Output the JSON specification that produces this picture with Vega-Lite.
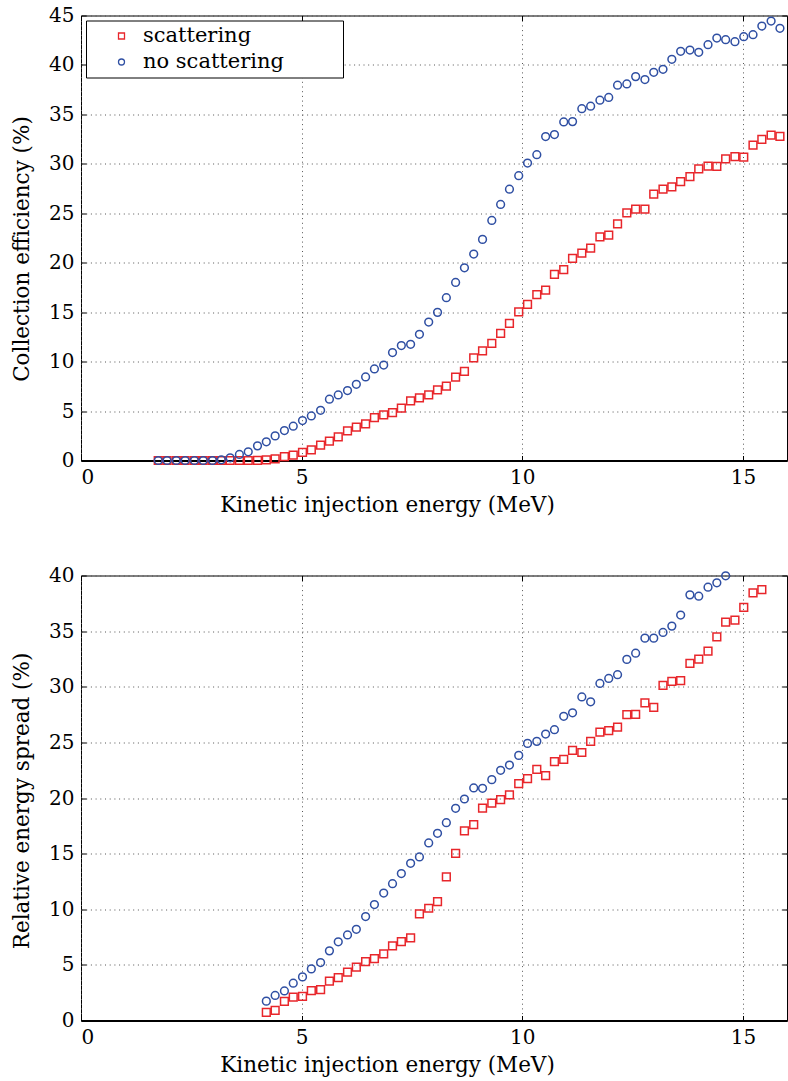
{
  "$schema": "https://vega.github.io/schema/vega-lite/v6.json",
  "padding": {"left": 10, "top": 4.5, "right": 0, "bottom": 0},
  "bounds": "flush",
  "spacing": 115,
  "config": {
    "font": "DejaVu Serif",
    "view": {"stroke": "black", "strokeWidth": 1},
    "axis": {
      "labelFont": "DejaVu Serif",
      "labelFontSize": 20,
      "labelColor": "black",
      "titleFont": "DejaVu Serif",
      "titleFontSize": 21.5,
      "titleFontWeight": "normal",
      "titleColor": "black",
      "tickColor": "black",
      "domainColor": "black",
      "gridColor": "#555555",
      "gridDash": [1, 3.7],
      "gridWidth": 1
    },
    "legend": {
      "labelFont": "DejaVu Serif",
      "labelFontSize": 21,
      "labelColor": "black",
      "labelLimit": 400
    }
  },
  "datasets": {
    "eff": [
      {"E": 1.75, "v": 0, "s": "scattering"}, {"E": 1.95, "v": 0, "s": "scattering"}, {"E": 2.16, "v": 0, "s": "scattering"}, {"E": 2.36, "v": 0, "s": "scattering"}, {"E": 2.57, "v": 0, "s": "scattering"}, {"E": 2.77, "v": 0, "s": "scattering"}, {"E": 2.98, "v": 0, "s": "scattering"}, {"E": 3.18, "v": 0, "s": "scattering"}, {"E": 3.38, "v": 0, "s": "scattering"}, {"E": 3.59, "v": 0, "s": "scattering"}, {"E": 3.79, "v": 0, "s": "scattering"}, {"E": 4.0, "v": 0.02, "s": "scattering"},
      {"E": 4.2, "v": 0.07, "s": "scattering"}, {"E": 4.4, "v": 0.17, "s": "scattering"}, {"E": 4.61, "v": 0.4, "s": "scattering"}, {"E": 4.81, "v": 0.54, "s": "scattering"}, {"E": 5.02, "v": 0.81, "s": "scattering"}, {"E": 5.22, "v": 1.08, "s": "scattering"}, {"E": 5.43, "v": 1.55, "s": "scattering"}, {"E": 5.63, "v": 1.95, "s": "scattering"}, {"E": 5.83, "v": 2.39, "s": "scattering"}, {"E": 6.04, "v": 3.0, "s": "scattering"},
      {"E": 6.24, "v": 3.37, "s": "scattering"}, {"E": 6.45, "v": 3.7, "s": "scattering"}, {"E": 6.65, "v": 4.34, "s": "scattering"}, {"E": 6.86, "v": 4.61, "s": "scattering"}, {"E": 7.06, "v": 4.85, "s": "scattering"}, {"E": 7.26, "v": 5.29, "s": "scattering"}, {"E": 7.47, "v": 6.03, "s": "scattering"}, {"E": 7.67, "v": 6.33, "s": "scattering"}, {"E": 7.88, "v": 6.63, "s": "scattering"}, {"E": 8.08, "v": 7.14, "s": "scattering"},
      {"E": 8.28, "v": 7.51, "s": "scattering"}, {"E": 8.49, "v": 8.42, "s": "scattering"}, {"E": 8.69, "v": 9.02, "s": "scattering"}, {"E": 8.9, "v": 10.37, "s": "scattering"}, {"E": 9.1, "v": 11.08, "s": "scattering"}, {"E": 9.31, "v": 11.85, "s": "scattering"}, {"E": 9.51, "v": 12.86, "s": "scattering"}, {"E": 9.71, "v": 13.87, "s": "scattering"}, {"E": 9.92, "v": 15.02, "s": "scattering"}, {"E": 10.12, "v": 15.79, "s": "scattering"},
      {"E": 10.33, "v": 16.77, "s": "scattering"}, {"E": 10.53, "v": 17.24, "s": "scattering"}, {"E": 10.73, "v": 18.82, "s": "scattering"}, {"E": 10.94, "v": 19.29, "s": "scattering"}, {"E": 11.14, "v": 20.44, "s": "scattering"}, {"E": 11.35, "v": 20.98, "s": "scattering"}, {"E": 11.55, "v": 21.48, "s": "scattering"}, {"E": 11.76, "v": 22.61, "s": "scattering"}, {"E": 11.96, "v": 22.8, "s": "scattering"}, {"E": 12.16, "v": 23.94, "s": "scattering"},
      {"E": 12.37, "v": 25.05, "s": "scattering"}, {"E": 12.57, "v": 25.42, "s": "scattering"}, {"E": 12.78, "v": 25.42, "s": "scattering"}, {"E": 12.98, "v": 26.93, "s": "scattering"}, {"E": 13.19, "v": 27.43, "s": "scattering"}, {"E": 13.39, "v": 27.67, "s": "scattering"}, {"E": 13.59, "v": 28.21, "s": "scattering"}, {"E": 13.8, "v": 28.7, "s": "scattering"}, {"E": 14.0, "v": 29.48, "s": "scattering"}, {"E": 14.21, "v": 29.78, "s": "scattering"},
      {"E": 14.41, "v": 29.75, "s": "scattering"}, {"E": 14.61, "v": 30.49, "s": "scattering"}, {"E": 14.82, "v": 30.72, "s": "scattering"}, {"E": 15.02, "v": 30.69, "s": "scattering"}, {"E": 15.23, "v": 31.9, "s": "scattering"}, {"E": 15.43, "v": 32.47, "s": "scattering"}, {"E": 15.64, "v": 32.91, "s": "scattering"}, {"E": 15.84, "v": 32.78, "s": "scattering"},
      {"E": 1.75, "v": 0, "s": "no scattering"}, {"E": 1.95, "v": 0, "s": "no scattering"}, {"E": 2.16, "v": 0, "s": "no scattering"}, {"E": 2.36, "v": 0, "s": "no scattering"}, {"E": 2.57, "v": 0, "s": "no scattering"}, {"E": 2.77, "v": 0, "s": "no scattering"}, {"E": 2.98, "v": 0, "s": "no scattering"}, {"E": 3.18, "v": 0.07, "s": "no scattering"}, {"E": 3.38, "v": 0.27, "s": "no scattering"}, {"E": 3.59, "v": 0.61, "s": "no scattering"},
      {"E": 3.79, "v": 0.88, "s": "no scattering"}, {"E": 4.0, "v": 1.48, "s": "no scattering"}, {"E": 4.2, "v": 1.89, "s": "no scattering"}, {"E": 4.4, "v": 2.49, "s": "no scattering"}, {"E": 4.61, "v": 3.03, "s": "no scattering"}, {"E": 4.81, "v": 3.47, "s": "no scattering"}, {"E": 5.02, "v": 4.04, "s": "no scattering"}, {"E": 5.22, "v": 4.51, "s": "no scattering"}, {"E": 5.43, "v": 5.08, "s": "no scattering"}, {"E": 5.63, "v": 6.2, "s": "no scattering"},
      {"E": 5.83, "v": 6.63, "s": "no scattering"}, {"E": 6.04, "v": 7.07, "s": "no scattering"}, {"E": 6.24, "v": 7.71, "s": "no scattering"}, {"E": 6.45, "v": 8.45, "s": "no scattering"}, {"E": 6.65, "v": 9.26, "s": "no scattering"}, {"E": 6.86, "v": 9.65, "s": "no scattering"}, {"E": 7.06, "v": 10.92, "s": "no scattering"}, {"E": 7.26, "v": 11.62, "s": "no scattering"}, {"E": 7.47, "v": 11.75, "s": "no scattering"}, {"E": 7.67, "v": 12.76, "s": "no scattering"},
      {"E": 7.88, "v": 14.0, "s": "no scattering"}, {"E": 8.08, "v": 14.98, "s": "no scattering"}, {"E": 8.28, "v": 16.46, "s": "no scattering"}, {"E": 8.49, "v": 18.01, "s": "no scattering"}, {"E": 8.69, "v": 19.49, "s": "no scattering"}, {"E": 8.9, "v": 20.88, "s": "no scattering"}, {"E": 9.1, "v": 22.36, "s": "no scattering"}, {"E": 9.31, "v": 24.28, "s": "no scattering"}, {"E": 9.51, "v": 25.89, "s": "no scattering"}, {"E": 9.71, "v": 27.44, "s": "no scattering"},
      {"E": 9.92, "v": 28.8, "s": "no scattering"}, {"E": 10.12, "v": 30.08, "s": "no scattering"}, {"E": 10.33, "v": 30.92, "s": "no scattering"}, {"E": 10.53, "v": 32.76, "s": "no scattering"}, {"E": 10.73, "v": 32.96, "s": "no scattering"}, {"E": 10.94, "v": 34.24, "s": "no scattering"}, {"E": 11.14, "v": 34.27, "s": "no scattering"}, {"E": 11.35, "v": 35.58, "s": "no scattering"}, {"E": 11.55, "v": 35.83, "s": "no scattering"}, {"E": 11.76, "v": 36.44, "s": "no scattering"},
      {"E": 11.96, "v": 36.71, "s": "no scattering"}, {"E": 12.16, "v": 37.95, "s": "no scattering"}, {"E": 12.37, "v": 38.08, "s": "no scattering"}, {"E": 12.57, "v": 38.82, "s": "no scattering"}, {"E": 12.78, "v": 38.52, "s": "no scattering"}, {"E": 12.98, "v": 39.26, "s": "no scattering"}, {"E": 13.19, "v": 39.56, "s": "no scattering"}, {"E": 13.39, "v": 40.57, "s": "no scattering"}, {"E": 13.59, "v": 41.38, "s": "no scattering"}, {"E": 13.8, "v": 41.51, "s": "no scattering"},
      {"E": 14.0, "v": 41.28, "s": "no scattering"}, {"E": 14.21, "v": 42.05, "s": "no scattering"}, {"E": 14.41, "v": 42.72, "s": "no scattering"}, {"E": 14.61, "v": 42.55, "s": "no scattering"}, {"E": 14.82, "v": 42.35, "s": "no scattering"}, {"E": 15.02, "v": 42.86, "s": "no scattering"}, {"E": 15.23, "v": 43.06, "s": "no scattering"}, {"E": 15.43, "v": 43.93, "s": "no scattering"}, {"E": 15.64, "v": 44.44, "s": "no scattering"}, {"E": 15.84, "v": 43.7, "s": "no scattering"}
    ],
    "spread": [
      {"E": 4.2, "v": 0.72, "s": "scattering"}, {"E": 4.4, "v": 0.9, "s": "scattering"}, {"E": 4.61, "v": 1.71, "s": "scattering"}, {"E": 4.81, "v": 2.1, "s": "scattering"}, {"E": 5.02, "v": 2.16, "s": "scattering"}, {"E": 5.22, "v": 2.69, "s": "scattering"}, {"E": 5.43, "v": 2.78, "s": "scattering"}, {"E": 5.63, "v": 3.53, "s": "scattering"}, {"E": 5.83, "v": 3.86, "s": "scattering"}, {"E": 6.04, "v": 4.34, "s": "scattering"},
      {"E": 6.24, "v": 4.79, "s": "scattering"}, {"E": 6.45, "v": 5.3, "s": "scattering"}, {"E": 6.65, "v": 5.57, "s": "scattering"}, {"E": 6.86, "v": 5.99, "s": "scattering"}, {"E": 7.06, "v": 6.71, "s": "scattering"}, {"E": 7.26, "v": 7.1, "s": "scattering"}, {"E": 7.47, "v": 7.43, "s": "scattering"}, {"E": 7.67, "v": 9.58, "s": "scattering"}, {"E": 7.88, "v": 10.09, "s": "scattering"}, {"E": 8.08, "v": 10.69, "s": "scattering"},
      {"E": 8.28, "v": 12.9, "s": "scattering"}, {"E": 8.49, "v": 15.03, "s": "scattering"}, {"E": 8.69, "v": 17.04, "s": "scattering"}, {"E": 8.9, "v": 17.6, "s": "scattering"}, {"E": 9.1, "v": 19.1, "s": "scattering"}, {"E": 9.31, "v": 19.55, "s": "scattering"}, {"E": 9.51, "v": 19.85, "s": "scattering"}, {"E": 9.71, "v": 20.27, "s": "scattering"}, {"E": 9.92, "v": 21.29, "s": "scattering"}, {"E": 10.12, "v": 21.74, "s": "scattering"},
      {"E": 10.33, "v": 22.57, "s": "scattering"}, {"E": 10.53, "v": 22.01, "s": "scattering"}, {"E": 10.73, "v": 23.26, "s": "scattering"}, {"E": 10.94, "v": 23.47, "s": "scattering"}, {"E": 11.14, "v": 24.28, "s": "scattering"}, {"E": 11.35, "v": 24.09, "s": "scattering"}, {"E": 11.55, "v": 25.09, "s": "scattering"}, {"E": 11.76, "v": 25.93, "s": "scattering"}, {"E": 11.96, "v": 26.05, "s": "scattering"}, {"E": 12.16, "v": 26.38, "s": "scattering"},
      {"E": 12.37, "v": 27.49, "s": "scattering"}, {"E": 12.57, "v": 27.51, "s": "scattering"}, {"E": 12.78, "v": 28.56, "s": "scattering"}, {"E": 12.98, "v": 28.14, "s": "scattering"}, {"E": 13.19, "v": 30.12, "s": "scattering"}, {"E": 13.39, "v": 30.48, "s": "scattering"}, {"E": 13.59, "v": 30.54, "s": "scattering"}, {"E": 13.8, "v": 32.1, "s": "scattering"}, {"E": 14.0, "v": 32.49, "s": "scattering"}, {"E": 14.21, "v": 33.2, "s": "scattering"},
      {"E": 14.41, "v": 34.49, "s": "scattering"}, {"E": 14.61, "v": 35.81, "s": "scattering"}, {"E": 14.82, "v": 35.99, "s": "scattering"}, {"E": 15.02, "v": 37.13, "s": "scattering"}, {"E": 15.23, "v": 38.44, "s": "scattering"}, {"E": 15.43, "v": 38.74, "s": "scattering"},
      {"E": 4.2, "v": 1.74, "s": "no scattering"}, {"E": 4.4, "v": 2.25, "s": "no scattering"}, {"E": 4.61, "v": 2.66, "s": "no scattering"}, {"E": 4.81, "v": 3.35, "s": "no scattering"}, {"E": 5.02, "v": 3.92, "s": "no scattering"}, {"E": 5.22, "v": 4.64, "s": "no scattering"}, {"E": 5.43, "v": 5.21, "s": "no scattering"}, {"E": 5.63, "v": 6.26, "s": "no scattering"}, {"E": 5.83, "v": 7.07, "s": "no scattering"}, {"E": 6.04, "v": 7.69, "s": "no scattering"},
      {"E": 6.24, "v": 8.2, "s": "no scattering"}, {"E": 6.45, "v": 9.34, "s": "no scattering"}, {"E": 6.65, "v": 10.42, "s": "no scattering"}, {"E": 6.86, "v": 11.46, "s": "no scattering"}, {"E": 7.06, "v": 12.3, "s": "no scattering"}, {"E": 7.26, "v": 13.21, "s": "no scattering"}, {"E": 7.47, "v": 14.13, "s": "no scattering"}, {"E": 7.67, "v": 14.7, "s": "no scattering"}, {"E": 7.88, "v": 15.96, "s": "no scattering"}, {"E": 8.08, "v": 16.83, "s": "no scattering"},
      {"E": 8.28, "v": 17.78, "s": "no scattering"}, {"E": 8.49, "v": 19.07, "s": "no scattering"}, {"E": 8.69, "v": 19.91, "s": "no scattering"}, {"E": 8.9, "v": 20.9, "s": "no scattering"}, {"E": 9.1, "v": 20.87, "s": "no scattering"}, {"E": 9.31, "v": 21.65, "s": "no scattering"}, {"E": 9.51, "v": 22.49, "s": "no scattering"}, {"E": 9.71, "v": 22.96, "s": "no scattering"}, {"E": 9.92, "v": 23.83, "s": "no scattering"}, {"E": 10.12, "v": 24.91, "s": "no scattering"},
      {"E": 10.33, "v": 25.09, "s": "no scattering"}, {"E": 10.53, "v": 25.75, "s": "no scattering"}, {"E": 10.73, "v": 26.14, "s": "no scattering"}, {"E": 10.94, "v": 27.34, "s": "no scattering"}, {"E": 11.14, "v": 27.66, "s": "no scattering"}, {"E": 11.35, "v": 29.08, "s": "no scattering"}, {"E": 11.55, "v": 28.65, "s": "no scattering"}, {"E": 11.76, "v": 30.3, "s": "no scattering"}, {"E": 11.96, "v": 30.75, "s": "no scattering"}, {"E": 12.16, "v": 31.08, "s": "no scattering"},
      {"E": 12.37, "v": 32.46, "s": "no scattering"}, {"E": 12.57, "v": 33.02, "s": "no scattering"}, {"E": 12.78, "v": 34.37, "s": "no scattering"}, {"E": 12.98, "v": 34.37, "s": "no scattering"}, {"E": 13.19, "v": 34.88, "s": "no scattering"}, {"E": 13.39, "v": 35.45, "s": "no scattering"}, {"E": 13.59, "v": 36.44, "s": "no scattering"}, {"E": 13.8, "v": 38.26, "s": "no scattering"}, {"E": 14.0, "v": 38.14, "s": "no scattering"}, {"E": 14.21, "v": 38.95, "s": "no scattering"},
      {"E": 14.41, "v": 39.34, "s": "no scattering"}, {"E": 14.61, "v": 39.97, "s": "no scattering"}
    ]
  },
  "vconcat": [
    {
      "width": 706,
      "height": 445,
      "data": {"name": "eff"},
      "layer": [
        {
          "mark": {"type": "point", "filled": false, "size": 60, "strokeWidth": 1.5, "opacity": 1},
          "encoding": {
            "x": {"field": "E", "type": "quantitative", "scale": {"domain": [0, 16], "nice": false},
              "axis": {"orient": "bottom", "values": [0, 5, 10, 15], "grid": true, "tickSize": -5, "labelPadding": 12, "domainWidth": 2, "title": "Kinetic injection energy (MeV)", "titleX": 306, "titleY": 51, "titleAlign": "center", "titleBaseline": "alphabetic", "titleAnchor": null}},
            "y": {"field": "v", "type": "quantitative", "scale": {"domain": [0, 45], "nice": false},
              "axis": {"orient": "left", "values": [0, 5, 10, 15, 20, 25, 30, 35, 40, 45], "grid": true, "tickSize": -5, "labelPadding": 12, "domain": false, "title": "Collection efficiency (%)", "titleX": -53, "titleY": 233, "titleAngle": 270, "titleAlign": "center", "titleBaseline": "alphabetic"}},
            "color": {"field": "s", "type": "nominal", "scale": {"domain": ["scattering", "no scattering"], "range": ["#e8262b", "#2f4fa3"]},
              "legend": {"title": null, "orient": "top-left", "offset": 5, "strokeColor": "black", "fillColor": "white", "padding": 5, "symbolSize": 36, "symbolStrokeWidth": 1.3, "symbolOffset": 20, "labelOffset": 11, "rowPadding": 4, "labelLimit": 400, "labelExpr": "datum.label == 'no scattering' ? datum.label + '\u00a0\u00a0\u00a0\u00a0\u00a0\u00a0\u00a0\u00a0\u200b' : datum.label"}},
            "shape": {"field": "s", "type": "nominal", "scale": {"domain": ["scattering", "no scattering"], "range": ["square", "circle"]},
              "legend": {"title": null, "orient": "top-left", "offset": 5, "strokeColor": "black", "fillColor": "white", "padding": 5, "symbolSize": 36, "symbolStrokeWidth": 1.3, "symbolOffset": 20, "labelOffset": 11, "rowPadding": 4, "labelLimit": 400, "labelExpr": "datum.label == 'no scattering' ? datum.label + '\u00a0\u00a0\u00a0\u00a0\u00a0\u00a0\u00a0\u00a0\u200b' : datum.label"}}
          }
        },
        {
          "mark": {"type": "point", "opacity": 0},
          "encoding": {
            "x": {"field": "E", "type": "quantitative", "axis": {"orient": "top", "values": [0, 5, 10, 15], "labels": false, "grid": false, "domain": false, "tickSize": -5, "title": null}},
            "y": {"field": "v", "type": "quantitative", "axis": {"orient": "right", "values": [0, 5, 10, 15, 20, 25, 30, 35, 40, 45], "labels": false, "grid": false, "domain": false, "tickSize": -5, "title": null}}
          }
        }
      ],
      "resolve": {"axis": {"x": "independent", "y": "independent"}}
    },
    {
      "width": 706,
      "height": 445,
      "data": {"name": "spread"},
      "layer": [
        {
          "mark": {"type": "point", "filled": false, "size": 60, "strokeWidth": 1.5, "opacity": 1},
          "encoding": {
            "x": {"field": "E", "type": "quantitative", "scale": {"domain": [0, 16], "nice": false},
              "axis": {"orient": "bottom", "values": [0, 5, 10, 15], "grid": true, "tickSize": -5, "labelPadding": 12, "domainWidth": 2, "title": "Kinetic injection energy (MeV)", "titleX": 306, "titleY": 51, "titleAlign": "center", "titleBaseline": "alphabetic", "titleAnchor": null}},
            "y": {"field": "v", "type": "quantitative", "scale": {"domain": [0, 40], "nice": false},
              "axis": {"orient": "left", "values": [0, 5, 10, 15, 20, 25, 30, 35, 40], "grid": true, "tickSize": -5, "labelPadding": 12, "domain": false, "title": "Relative energy spread (%)", "titleX": -53, "titleY": 225, "titleAngle": 270, "titleAlign": "center", "titleBaseline": "alphabetic"}},
            "color": {"field": "s", "type": "nominal", "scale": {"domain": ["scattering", "no scattering"], "range": ["#e8262b", "#2f4fa3"]},
              "legend": {"title": null, "orient": "top-left", "offset": 5, "strokeColor": "black", "fillColor": "white", "padding": 5, "symbolSize": 36, "symbolStrokeWidth": 1.3, "symbolOffset": 20, "labelOffset": 11, "rowPadding": 4, "labelLimit": 400, "labelExpr": "datum.label == 'no scattering' ? datum.label + '\u00a0\u00a0\u00a0\u00a0\u00a0\u00a0\u00a0\u00a0\u200b' : datum.label"}},
            "shape": {"field": "s", "type": "nominal", "scale": {"domain": ["scattering", "no scattering"], "range": ["square", "circle"]},
              "legend": {"title": null, "orient": "top-left", "offset": 5, "strokeColor": "black", "fillColor": "white", "padding": 5, "symbolSize": 36, "symbolStrokeWidth": 1.3, "symbolOffset": 20, "labelOffset": 11, "rowPadding": 4, "labelLimit": 400, "labelExpr": "datum.label == 'no scattering' ? datum.label + '\u00a0\u00a0\u00a0\u00a0\u00a0\u00a0\u00a0\u00a0\u200b' : datum.label"}}
          }
        },
        {
          "mark": {"type": "point", "opacity": 0},
          "encoding": {
            "x": {"field": "E", "type": "quantitative", "axis": {"orient": "top", "values": [0, 5, 10, 15], "labels": false, "grid": false, "domain": false, "tickSize": -5, "title": null}},
            "y": {"field": "v", "type": "quantitative", "axis": {"orient": "right", "values": [0, 5, 10, 15, 20, 25, 30, 35, 40], "labels": false, "grid": false, "domain": false, "tickSize": -5, "title": null}}
          }
        }
      ],
      "resolve": {"axis": {"x": "independent", "y": "independent"}}
    }
  ]
}
